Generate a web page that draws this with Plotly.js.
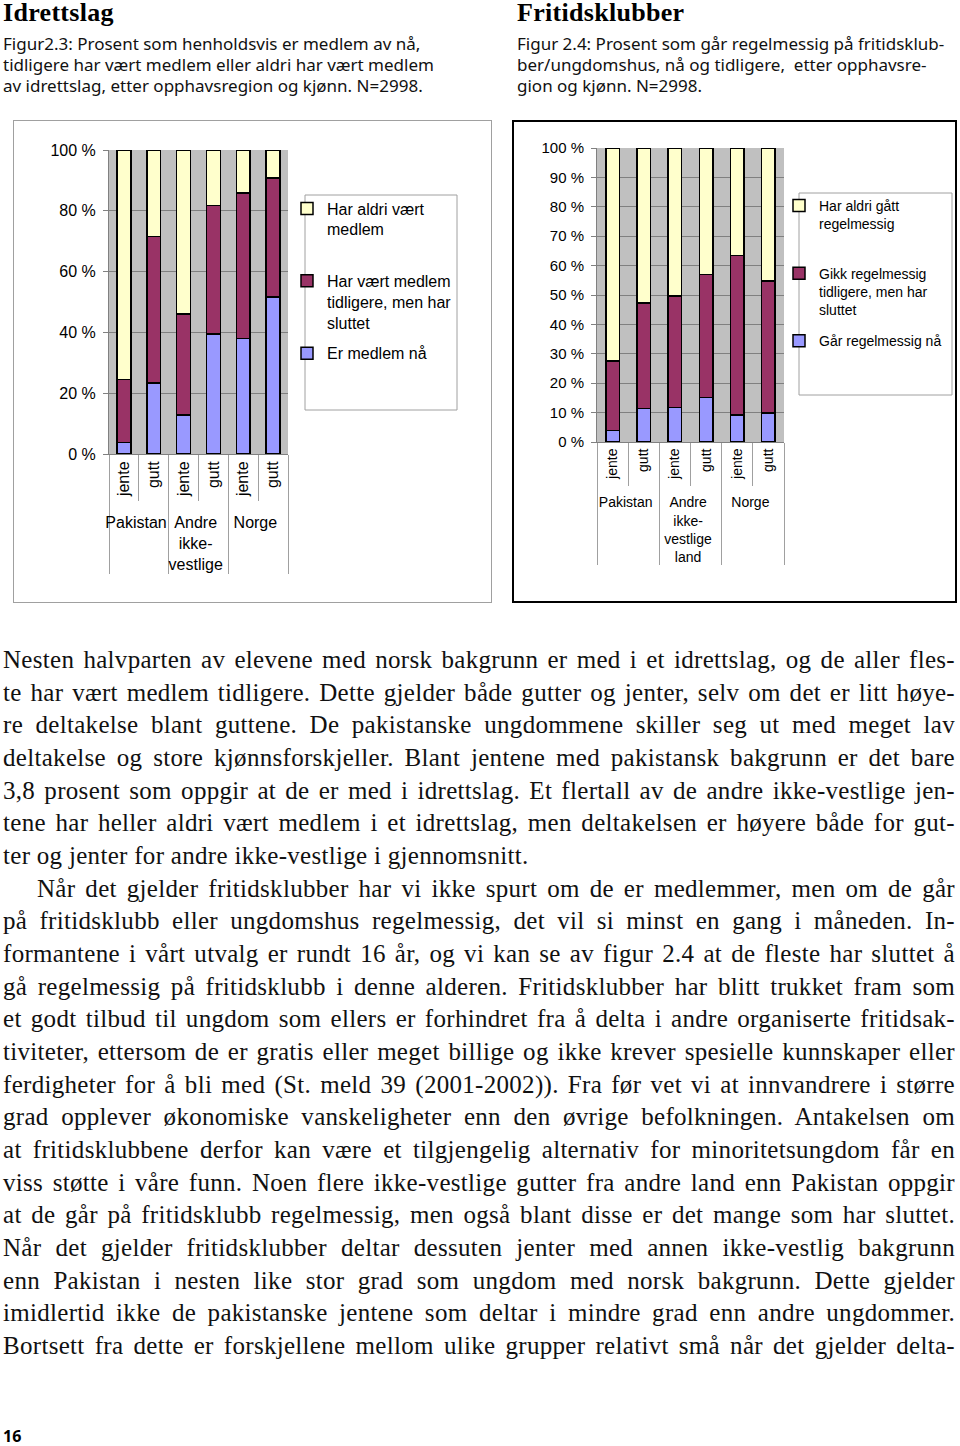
<!DOCTYPE html>
<html><head><meta charset="utf-8">
<script src="https://cdn.plot.ly/plotly-3.0.1.min.js"></script>
<style>
body{margin:0;width:960px;height:1446px;position:relative;background:#fff;overflow:hidden;}
.h{position:absolute;font-family:'Liberation Serif',serif;font-weight:bold;font-size:26px;line-height:26px;color:#000;letter-spacing:0.3px;}
.cap{position:absolute;font-family:'Noto Sans',sans-serif;font-size:17px;line-height:21px;color:#111;white-space:nowrap;}
#body{position:absolute;left:3px;top:644px;width:952px;font-family:'Liberation Serif',serif;font-size:25px;line-height:32.67px;color:#111;letter-spacing:0.3px;}
#body div{white-space:nowrap;}
#body div.ind{padding-left:34px;}
.frame{position:absolute;box-sizing:border-box;}
.plot{position:absolute;}
#pg{position:absolute;left:3px;top:1428px;font-family:'Noto Sans',sans-serif;font-weight:bold;font-size:16px;line-height:16px;}
</style></head>
<body>
<div class="h" style="left:3px;top:0px;">Idrettslag</div>
<div class="cap" style="left:3px;top:33px;">Figur2.3: Prosent som henholdsvis er medlem av nå,<br>tidligere har vært medlem eller aldri har vært medlem<br>av idrettslag, etter opphavsregion og kjønn. N=2998.</div>
<div class="h" style="left:517px;top:0px;">Fritidsklubber</div>
<div class="cap" style="left:517px;top:33px;">Figur 2.4: Prosent som går regelmessig på fritidsklub-<br>ber/ungdomshus, nå og tidligere,&nbsp; etter opphavsre-<br>gion og kjønn. N=2998.</div>

<div class="frame" style="left:13px;top:120px;width:479px;height:483px;border:1px solid #a0a0a0;"><div id="c1" class="plot" style="left:-1px;top:-1px;"></div></div>
<div class="frame" style="left:512px;top:120px;width:445px;height:483px;border:2px solid #000;"><div id="c2" class="plot" style="left:-2px;top:-2px;"></div></div>

<div id="body">
<div>Nesten halvparten av elevene med norsk bakgrunn er med i et idrettslag, og de aller fles-</div>
<div>te har vært medlem tidligere. Dette gjelder både gutter og jenter, selv om det er litt høye-</div>
<div>re deltakelse blant guttene. De pakistanske ungdommene skiller seg ut med meget lav</div>
<div>deltakelse og store kjønnsforskjeller. Blant jentene med pakistansk bakgrunn er det bare</div>
<div>3,8 prosent som oppgir at de er med i idrettslag. Et flertall av de andre ikke-vestlige jen-</div>
<div>tene har heller aldri vært medlem i et idrettslag, men deltakelsen er høyere både for gut-</div>
<div class="last">ter og jenter for andre ikke-vestlige i gjennomsnitt.</div>
<div class="ind">Når det gjelder fritidsklubber har vi ikke spurt om de er medlemmer, men om de går</div>
<div>på fritidsklubb eller ungdomshus regelmessig, det vil si minst en gang i måneden. In-</div>
<div>formantene i vårt utvalg er rundt 16 år, og vi kan se av figur 2.4 at de fleste har sluttet å</div>
<div>gå regelmessig på fritidsklubb i denne alderen. Fritidsklubber har blitt trukket fram som</div>
<div>et godt tilbud til ungdom som ellers er forhindret fra å delta i andre organiserte fritidsak-</div>
<div>tiviteter, ettersom de er gratis eller meget billige og ikke krever spesielle kunnskaper eller</div>
<div>ferdigheter for å bli med (St. meld 39 (2001-2002)). Fra før vet vi at innvandrere i større</div>
<div>grad opplever økonomiske vanskeligheter enn den øvrige befolkningen. Antakelsen om</div>
<div>at fritidsklubbene derfor kan være et tilgjengelig alternativ for minoritetsungdom får en</div>
<div>viss støtte i våre funn. Noen flere ikke-vestlige gutter fra andre land enn Pakistan oppgir</div>
<div>at de går på fritidsklubb regelmessig, men også blant disse er det mange som har sluttet.</div>
<div>Når det gjelder fritidsklubber deltar dessuten jenter med annen ikke-vestlig bakgrunn</div>
<div>enn Pakistan i nesten like stor grad som ungdom med norsk bakgrunn. Dette gjelder</div>
<div>imidlertid ikke de pakistanske jentene som deltar i mindre grad enn andre ungdommer.</div>
<div>Bortsett fra dette er forskjellene mellom ulike grupper relativt små når det gjelder delta-</div>
</div>
<div id="pg">16</div>

<script>
// ---- data ----
var genders = ['jente','gutt','jente','gutt','jente','gutt'];
var groups1 = ['Pakistan','Pakistan','Andre<br>ikke-<br>vestlige','Andre<br>ikke-<br>vestlige','Norge','Norge'];
var groups2 = ['Pakistan','Pakistan','Andre<br>ikke-<br>vestlige<br>land','Andre<br>ikke-<br>vestlige<br>land','Norge','Norge'];

var idrettNaa   = [3.8, 23.4, 12.9, 39.5, 38.0, 51.6];
var idrettTidl  = [20.7, 48.2, 33.2, 42.3, 47.9, 39.2];
var idrettAldri = [75.5, 28.4, 53.9, 18.2, 14.1, 9.2];
var idrettNames = ['Er medlem nå', 'Har vært medlem<br>tidligere, men har<br>sluttet', 'Har aldri vært<br>medlem'];

var fritidNaa   = [3.9, 11.4, 11.8, 15.2, 9.2, 9.8];
var fritidTidl  = [23.6, 35.8, 37.9, 41.8, 54.3, 44.9];
var fritidAldri = [72.5, 52.8, 50.3, 43.0, 36.5, 45.3];
var fritidNames = ['Går regelmessig nå', 'Gikk regelmessig<br>tidligere, men har<br>sluttet', 'Har aldri gått<br>regelmessig'];

var colors = ['#9999FF', '#993366', '#FFFFCC'];
var FONT = 'Liberation Sans, Arial, sans-serif';

// justify each printed line to the text block width
(function(){
  var W = 952;
  document.querySelectorAll('#body div').forEach(function(d){
    var span = document.createElement('span');
    span.innerHTML = d.innerHTML; d.innerHTML = ''; d.appendChild(span);
    if (d.classList.contains('last')) return;
    var pad = parseFloat(getComputedStyle(d).paddingLeft) || 0;
    var w = span.getBoundingClientRect().width;
    var n = (span.textContent.match(/ /g) || []).length;
    if (n) span.style.wordSpacing = ((W - pad - w) / n) + 'px';
  });
})();

function traces(groups, series, names) {
  return series.map(function(v, i) {
    var nm = (i === 2) ? names[i] + '<br>\u00a0' : names[i];
    return {type:'bar', x:[groups, genders], y:v, name:nm, legendgroup:'g' + i, legendrank:10 - i,
      marker:{color:colors[i], line:{color:'#000', width:1.5}}, hoverinfo:'skip'};
  });
}

function layout(o) {
  return {
    width:o.w, height:o.h, margin:o.m,
    barmode:'stack', bargap:o.gap,
    paper_bgcolor:'rgba(0,0,0,0)', plot_bgcolor:'#C0C0C0',
    font:{family:FONT, size:o.fs, color:'#000'},
    showlegend:true,
    legend:{x:o.lx, y:o.ly, xanchor:'left', yanchor:'top', valign:'top',
      traceorder:'grouped', tracegroupgap:o.tg,
      bgcolor:'rgba(0,0,0,0)', borderwidth:0, font:{family:FONT, size:o.lfs}, itemwidth:30},
    xaxis:{type:'multicategory', tickangle:-90, showline:true, linecolor:'#808080', linewidth:1,
      ticks:'outside', ticklen:o.tl, tickcolor:'#A0A0A0', showdividers:true, dividercolor:'#A0A0A0',
      dividerwidth:1, tickfont:{size:o.fs}, showgrid:false, zeroline:false, fixedrange:true},
    yaxis:{range:[0,100], dtick:o.dt, ticksuffix:' %', showline:true, linecolor:'#808080',
      ticks:'outside', ticklen:5, tickcolor:'#808080', gridcolor:'#808080', gridwidth:1,
      zeroline:false, tickfont:{size:o.yfs}, ticklabelstandoff:4, fixedrange:true},
    shapes:[{type:'rect', xref:'paper', yref:'paper', x0:o.bx0, x1:o.bx1, y0:o.by0, y1:o.by1,
      line:{color:'#A0A0A0', width:1}, fillcolor:'#fff', layer:'above'}]
  };
}

// figure widths are wider than the frames so the legends never squeeze the plot areas
var W1 = 540, W2 = 520;
Plotly.newPlot('c1', traces(groups1, [idrettNaa, idrettTidl, idrettAldri], idrettNames),
  layout({w:W1, h:483, m:{l:96, r:W1 - 96 - 179, t:30, b:149, pad:0}, gap:0.54, fs:16, yfs:16, lfs:16, tl:46, dt:20, tg:7,
    lx:(287-109)/179, ly:(454-191.5)/304,
    bx0:(305-109)/179, bx1:(457-109)/179, by0:(454-410)/304, by1:(454-195)/304}),
  {displayModeBar:false, staticPlot:true});

Plotly.newPlot('c2', traces(groups2, [fritidNaa, fritidTidl, fritidAldri], fritidNames),
  layout({w:W2, h:483, m:{l:85, r:W2 - 85 - 187, t:28, b:161, pad:0}, gap:0.57, fs:14, yfs:15, lfs:14, tl:43, dt:10, tg:10,
    lx:(779-597)/187, ly:(442-190)/294,
    bx0:(799-597)/187, bx1:(952-597)/187, by0:(442-395)/294, by1:(442-193)/294}),
  {displayModeBar:false, staticPlot:true});
</script>
</body></html>
